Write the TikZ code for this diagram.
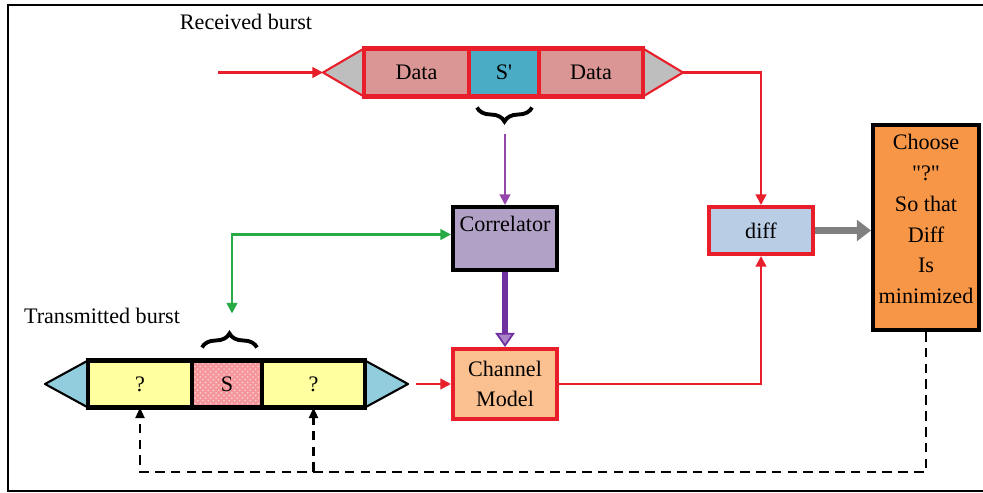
\documentclass[tikz,border=0pt]{standalone}
\usepackage{fontspec}
\setmainfont{Liberation Serif}
\usetikzlibrary{positioning, arrows.meta, calc, decorations.pathreplacing, patterns, backgrounds}
\definecolor{linered}{RGB}{232, 30, 42}
\definecolor{datapink}{RGB}{217, 150, 148}
\definecolor{syncblue}{RGB}{75, 172, 198}
\definecolor{capgrey}{RGB}{190, 190, 190}
\definecolor{capblue}{RGB}{146, 205, 221}
\definecolor{unkyellow}{RGB}{255, 255, 160}
\definecolor{syncred}{RGB}{245, 150, 155}
\definecolor{corrfill}{RGB}{178, 161, 199}
\definecolor{chanfill}{RGB}{250, 192, 144}
\definecolor{difffill}{RGB}{185, 205, 229}
\definecolor{choosefill}{RGB}{247, 150, 70}
\definecolor{linepurple}{RGB}{150, 70, 170}
\definecolor{darkpurple}{RGB}{112, 48, 160}
\definecolor{linegreen}{RGB}{40, 170, 70}

\begin{document}
\begin{tikzpicture}[
    x=0.02cm, y=-0.02cm,
    font=\fontsize{12.6}{17.5}\selectfont,
    >=Stealth,
    % Styles definition
    cell/.style={draw, rectangle, line width=2.3pt, inner sep=0pt, outer sep=0pt, minimum height=0.96cm},
    rxcell/.style={cell, draw=linered, fill=datapink},
    txcell/.style={cell, draw=black, fill=unkyellow, minimum height=0.94cm},
    rxcap/.style={draw=linered, fill=capgrey, line width=1.2pt, line join=round},
    txcap/.style={draw=black, fill=capblue, line width=1.2pt, line join=round},
    block/.style={draw, rectangle, line width=2.3pt, align=center, inner sep=2pt, minimum width=2.08cm},
    bracket/.style={decorate, decoration={brace, amplitude=8pt}, line width=2.2pt},
    redarrow/.style={-{Triangle[length=6pt, width=6pt]}, draw=linered, line width=1.2pt},
    greenarrow/.style={{Triangle[length=6pt, width=6pt]}-{Triangle[length=6pt, width=6pt]}, draw=linegreen, line width=1.4pt},
    fbarrow/.style={-{Triangle[length=6pt, width=5pt]}, draw=black, line width=1.4pt, dash pattern=on 5.5pt off 3.5pt}
]
\useasboundingbox (0,0) rectangle (983,493);

% outer frame
\draw[line width=1.7pt] (8,5) rectangle (1000,491);

% 1. Received burst
\node (rxlabel) at (246,22) {Received burst};
\node[rxcell, minimum width=2.1cm] (rxl) at (416.5,72.5) {Data};
\node[rxcell, fill=syncblue, minimum width=1.4cm] (rxs) at (504,72.5) {S\textquotesingle};
\node[rxcell, minimum width=2.08cm] (rxr) at (591,72.5) {Data};
\coordinate (rxltip) at (323,72.5);
\coordinate (rxrtip) at (683,72.5);
\coordinate (rxin) at (218,72.5);
\begin{scope}[on background layer]
    \draw[rxcap] (rxl.north west) -- (rxltip) -- (rxl.south west) -- cycle;
    \draw[rxcap] (rxr.north east) -- (rxrtip) -- (rxr.south east) -- cycle;
\end{scope}
\draw[bracket] ([xshift=-0.14cm, yshift=-0.22cm]rxs.south east) -- ([xshift=0.16cm, yshift=-0.22cm]rxs.south west);
\coordinate (rxtip) at ($(rxs.south)+(1,38)$);

% 2. Transmitted burst
\node (txlabel) at (102,316) {Transmitted burst};
\node[txcell, minimum width=2.08cm] (txl) at (140,384) {?};
\node[txcell, fill=syncred, minimum width=1.4cm, postaction={pattern=crosshatch dots, pattern color=white!60!syncred}] (txs) at (227,384) {S};
\node[txcell, minimum width=2.06cm] (txr) at (313.5,384) {?};
\draw[line width=2.3pt] (txs.north west) rectangle (txs.south east);
\coordinate (txltip) at (45,384);
\coordinate (txrtip) at (408,384);
\coordinate (txout) at (416,384);
\begin{scope}[on background layer]
    \draw[txcap] (txl.north west) -- (txltip) -- (txl.south west) -- cycle;
    \draw[txcap] (txr.north east) -- (txrtip) -- (txr.south east) -- cycle;
\end{scope}
\draw[bracket] ([xshift=0.2cm, yshift=0.26cm]txs.north west) -- ([xshift=-0.1cm, yshift=0.26cm]txs.north east);
\coordinate (txtip) at ($(txs.north)+(5,-47)$);

% 3. Processing blocks
\node[block, fill=corrfill, minimum height=1.26cm, label={[anchor=north, yshift=-3pt]north:Correlator}] (corr) at (505,238.5) {};
\node[block, draw=linered, fill=chanfill, minimum height=1.4cm] (chan) at (505,384) {Channel\\Model};
\node[block, draw=linered, fill=difffill, minimum height=0.94cm] (diff) at (761,230.5) {diff};
\node[block, fill=choosefill, minimum width=2.12cm, minimum height=4.1cm,
    label={[anchor=north, align=center, yshift=-3pt]north:Choose\\\textquotedbl?\textquotedbl\\So that\\Diff\\Is\\minimized}] (choose) at (926,227.5) {};

% --- Routing / Arrows ---

% received burst -> diff
\draw[redarrow] (rxin) -- (rxltip);
\draw[redarrow] (rxrtip) -| (diff.north);

% S' -> correlator, correlator <-> S
\draw[-{Triangle[length=6pt, width=6pt]}, draw=linepurple, line width=1.2pt] (rxtip) -- (corr.north);
\draw[greenarrow] (txtip) |- ([yshift=0.08cm]corr.west);

% correlator -> channel model
\draw[-{Triangle[length=8pt, width=11pt, fill=darkpurple!60, line width=1pt]}, draw=darkpurple, line width=3.4pt] (corr.south) -- (chan.north);

% transmitted burst -> channel model -> diff
\draw[redarrow] (txout) -- (chan.west);
\draw[redarrow] (chan.east) -| (diff.south);

% diff -> choose
\draw[-{Triangle[length=8pt, width=12pt, fill=gray, line width=1pt]}, draw=gray, line width=3.6pt] (diff.east) -- (diff.east -| choose.west);

% feedback to the unknown parts
\coordinate (loop) at (0,472);
\draw[fbarrow] (choose.south) |- (loop -| txl.south) -- (txl.south);
\draw[fbarrow] (txr.south |- loop) -- (txr.south);

\end{tikzpicture}
\end{document}
